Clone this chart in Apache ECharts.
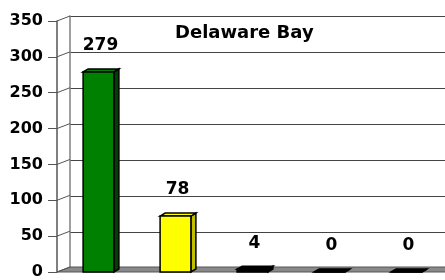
<!DOCTYPE html>
<html lang="en">
<head>
  <meta charset="UTF-8">
  <title>Delaware Bay</title>
  <script src="https://cdn.jsdelivr.net/npm/echarts@6.0.0/dist/echarts.min.js"></script>
  <style>
    html, body { margin: 0; padding: 0; background: #fff; }
    #char { width: 445px; height: 280px; }
  </style>
</head>
<body>
  <div id="char"></div>
  <script>
    // data
    const categories = ['Site 1', 'Site 2', 'Site 3', 'Site 4', 'Site 5'];
    const counts = [279, 78, 4, 0, 0];
    const frontColors = ['#008000', '#ffff00', '#000000', '#000000', '#000000'];
    const sideColors = ['#004000', '#bfbf00', '#000000', '#000000', '#000000'];
    const yTicks = [0, 50, 100, 150, 200, 250, 300, 350];

    const chart = echarts.init(document.getElementById('char'), null, { renderer: 'canvas' });

    const labelFont = 'bold 17px "DejaVu Sans"';

    // 3D-ish bar: front face, right side and top
    function renderBar(params, api) {
      const idx = api.value(0);
      const v = api.value(1);
      const top = api.coord([idx, v]);
      const base = api.coord([idx, 0]);
      const w = api.size([1, 0])[0] * 0.4;
      const x0 = top[0] - w / 2, x1 = top[0] + w / 2;
      const dx = 5, dy = 3;
      const stroke = { stroke: '#000', lineWidth: 1.5 };
      return {
        type: 'group',
        children: [
          {
            type: 'polygon',
            shape: { points: [[x1, top[1]], [x1 + dx, top[1] - dy], [x1 + dx, base[1] - dy], [x1, base[1]]] },
            style: Object.assign({ fill: sideColors[idx] }, stroke)
          },
          {
            type: 'polygon',
            shape: { points: [[x0, top[1]], [x0 + dx, top[1] - dy], [x1 + dx, top[1] - dy], [x1, top[1]]] },
            style: Object.assign({ fill: frontColors[idx] }, stroke)
          },
          {
            type: 'rect',
            shape: { x: x0, y: top[1], width: w, height: base[1] - top[1] },
            style: Object.assign({ fill: frontColors[idx] }, stroke)
          },
          {
            type: 'text',
            x: top[0] + 2,
            y: top[1] - 26,
            style: {
              text: String(v), font: labelFont, fill: '#000',
              textAlign: 'center', textVerticalAlign: 'middle',
              align: 'center', verticalAlign: 'middle'
            }
          }
        ]
      };
    }

    // floor and the slanted ticks between front axis and back wall
    function renderFrame(params, api) {
      const cs = params.coordSys;
      const fx = cs.x - 3;        // front axis line
      const ddx = 13, ddy = 5;    // wall depth
      const y0 = api.coord([0, 0])[1];
      const children = [{
        type: 'polygon',
        shape: { points: [[fx, y0], [fx + ddx, y0 - ddy], [api.getWidth() + 5, y0 - ddy], [api.getWidth() + 5, y0]] },
        style: { fill: '#8a8a8a', stroke: '#555', lineWidth: 1 }
      }];
      yTicks.forEach(function (t) {
        const y = api.coord([0, t])[1];
        children.push({
          type: 'line',
          shape: { x1: fx, y1: y, x2: fx + ddx, y2: y - ddy },
          style: { stroke: '#555', lineWidth: 1 }
        });
      });
      return { type: 'group', children: children };
    }

    const option = {
      backgroundColor: '#fff',
      animation: false,
      title: {
        text: 'Delaware Bay',
        left: 170,
        top: 19,
        textStyle: { fontFamily: 'DejaVu Sans', fontSize: 18, fontWeight: 'bold', color: '#000' }
      },
      grid: [
        { left: 70, right: 0, top: 16, bottom: 12 },   // back wall
        { left: 60, right: -3, top: 21, bottom: 7 }    // front
      ],
      xAxis: [
        { gridIndex: 0, type: 'category', data: categories, show: false },
        { gridIndex: 1, type: 'category', data: categories, show: false }
      ],
      yAxis: [
        {
          gridIndex: 0, type: 'value', min: 0, max: 350, interval: 50,
          axisLabel: { show: false },
          axisTick: { show: false },
          axisLine: { show: true, lineStyle: { color: '#808080', width: 1.5 } },
          splitLine: { show: true, lineStyle: { color: '#444', width: 1 } }
        },
        {
          gridIndex: 1, type: 'value', min: 0, max: 350, interval: 50, offset: 3,
          axisLine: { show: true, lineStyle: { color: '#555', width: 1.5 } },
          axisTick: { show: true, length: 9, lineStyle: { color: '#555', width: 1 } },
          axisLabel: {
            margin: 14, color: '#000', fontSize: 16, fontWeight: 'bold', fontFamily: 'DejaVu Sans'
          },
          splitLine: { show: false }
        }
      ],
      series: [
        {
          type: 'custom', xAxisIndex: 1, yAxisIndex: 1, z: 1,
          renderItem: renderFrame, data: [[0, 0]], silent: true
        },
        {
          type: 'custom', xAxisIndex: 1, yAxisIndex: 1, z: 3,
          renderItem: renderBar,
          data: counts.map(function (v, i) { return [i, v]; })
        }
      ]
    };

    chart.setOption(option);
  </script>
</body>
</html>
